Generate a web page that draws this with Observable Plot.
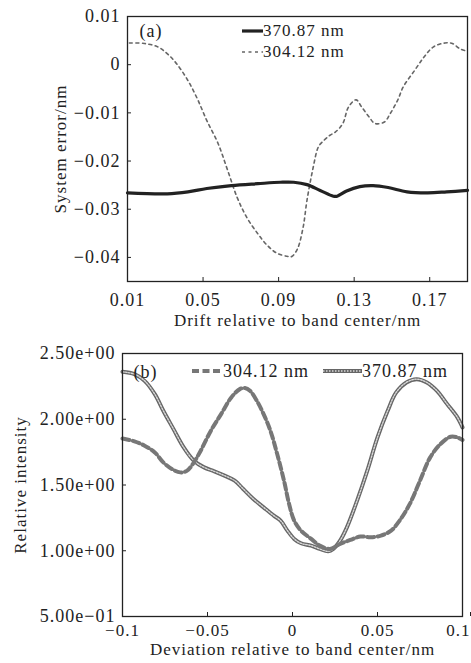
<!DOCTYPE html>
<html><head><meta charset="utf-8">
<script src="https://cdn.jsdelivr.net/npm/d3@7"></script>
<script src="https://cdn.jsdelivr.net/npm/@observablehq/plot@0.6"></script>
<style>
body{margin:0;background:#fff;}
#wrap{position:relative;width:471px;height:663px;font-family:'Liberation Serif',serif;color:#222;}
#a{position:absolute;left:0;top:0;}
#b{position:absolute;left:0;top:330px;}
.lg{position:absolute;display:flex;align-items:center;white-space:nowrap;letter-spacing:1px;}
.lg svg{display:block;overflow:visible;}
</style></head><body>
<div id="wrap"><div id="a"></div><div id="b"></div>
<div class="lg" id="la1" style="left:242px;top:20px;font-size:17px;"></div>
<div class="lg" id="la2" style="left:242px;top:41px;font-size:17px;"></div>
<div class="lg" id="lb1" style="left:192px;top:360px;font-size:18px;"></div>
<div class="lg" id="lb2" style="left:323px;top:360px;font-size:18px;"></div>
</div>
<script>
// ---- Panel (a) data ----
const seriesNames = ["370.87 nm", "304.12 nm"];
const drift370 = [0.010,0.031,0.042,0.052,0.065,0.079,0.091,0.098,0.105,0.112,0.119,0.121,0.126,0.133,0.140,0.148,0.158,0.169,0.179,0.190];
const err370   = [-0.0266,-0.0268,-0.0264,-0.0257,-0.0251,-0.0247,-0.0244,-0.0244,-0.0249,-0.0261,-0.0273,-0.0273,-0.0262,-0.0253,-0.0251,-0.0255,-0.0264,-0.0266,-0.0264,-0.0261];
const drift304 = [0.011,0.019,0.026,0.031,0.036,0.042,0.047,0.052,0.058,0.063,0.068,0.073,0.079,0.084,0.089,0.095,0.097,0.100,0.103,0.105,0.108,0.111,0.113,0.117,0.120,0.124,0.127,0.131,0.134,0.138,0.141,0.146,0.149,0.153,0.156,0.162,0.167,0.172,0.178,0.182,0.186,0.190];
const err304   = [0.0045,0.0044,0.0037,0.0023,0.0002,-0.0033,-0.0071,-0.0116,-0.0164,-0.0219,-0.0275,-0.0316,-0.0351,-0.0375,-0.0391,-0.0398,-0.0398,-0.0382,-0.0337,-0.0282,-0.0219,-0.0171,-0.0161,-0.0147,-0.0140,-0.0122,-0.0088,-0.0073,-0.0088,-0.0109,-0.0122,-0.0119,-0.0102,-0.0074,-0.0046,-0.0012,0.0016,0.0037,0.0045,0.0044,0.0033,0.0028];
const xTicksA = [0.01,0.05,0.09,0.13,0.17];
const xTickLabelsA = ["0.01","0.05","0.09","0.13","0.17"];
const yTicksA = [0.01,0,-0.01,-0.02,-0.03,-0.04];
const yTickLabelsA = ["0.01","0","\u22120.01","\u22120.02","\u22120.03","\u22120.04"];

// ---- Panel (b) data ----
const dev370 = [-0.100,-0.093,-0.087,-0.081,-0.076,-0.070,-0.064,-0.058,-0.052,-0.046,-0.040,-0.034,-0.029,-0.023,-0.017,-0.011,-0.007,-0.003,0.001,0.005,0.011,0.016,0.021,0.024,0.028,0.032,0.038,0.044,0.050,0.056,0.061,0.067,0.073,0.079,0.085,0.091,0.097,0.100];
const int370 = [2.361,2.343,2.292,2.191,2.065,1.925,1.786,1.685,1.634,1.604,1.571,1.533,1.470,1.394,1.330,1.267,1.229,1.153,1.090,1.057,1.039,1.014,0.996,1.014,1.077,1.178,1.381,1.609,1.862,2.065,2.204,2.280,2.305,2.280,2.216,2.115,2.014,1.938];
const dev304 = [-0.100,-0.093,-0.087,-0.081,-0.076,-0.071,-0.066,-0.062,-0.058,-0.054,-0.048,-0.042,-0.036,-0.031,-0.028,-0.025,-0.021,-0.017,-0.013,-0.009,-0.005,-0.002,0.001,0.005,0.011,0.016,0.022,0.028,0.034,0.040,0.046,0.052,0.058,0.063,0.069,0.075,0.081,0.087,0.093,0.097,0.100];
const int304 = [1.854,1.832,1.799,1.748,1.672,1.622,1.596,1.609,1.672,1.761,1.913,2.039,2.166,2.229,2.237,2.216,2.141,2.039,1.913,1.735,1.533,1.356,1.229,1.153,1.090,1.039,1.014,1.052,1.082,1.108,1.103,1.115,1.153,1.229,1.356,1.533,1.710,1.811,1.867,1.862,1.842];
const xTicksB = [-0.1,-0.05,0,0.05,0.1];
const xTickLabelsB = ["\u22120.1","\u22120.05","0","0.05","0.1"];
const yTicksB = [0.5,1,1.5,2,2.5];
const yTickLabelsB = ["5.00e\u221201","1.00e+00","1.50e+00","2.00e+00","2.50e+00"];

const zip = (xs, ys) => xs.map((x, i) => ({x, y: ys[i]}));
const fmt = (ticks, labels) => d => labels[ticks.findIndex(t => Math.abs(t - d) < 1e-9)];
const baseStyle = {fontFamily:"'Liberation Serif', serif", fontSize:"18px", color:"#222", background:"#fff", overflow:"visible", letterSpacing:"1px"};

const style = {
  a370: {stroke:"#222", strokeWidth:3.2},
  a304: {stroke:"#666", strokeWidth:1.6, strokeDasharray:"3,3.5"},
  b304: {stroke:"#777", strokeWidth:4, strokeDasharray:"7,3.5"},
  b370o: {stroke:"#666", strokeWidth:4},
  b370i: {stroke:"#d8d8d8", strokeWidth:1.4, strokeDasharray:"1.5,1.5"}
};

const plotA = Plot.plot({
  width:471, height:330,
  marginTop:16, marginBottom:49, marginLeft:127, marginRight:4,
  style: baseStyle,
  x:{domain:[0.01,0.19]},
  y:{domain:[-0.045,0.01]},
  marks:[
    Plot.axisX(xTicksA, {tickSize:-4, tickPadding:16, tickFormat: fmt(xTicksA, xTickLabelsA), fontSize:18, label:null}),
    Plot.axisY(yTicksA, {tickSize:-4, tickPadding:11, tickFormat: fmt(yTicksA, yTickLabelsA), fontSize:18, label:null}),
    Plot.line(zip(drift304, err304), {x:"x", y:"y", curve:"catmull-rom", ...style.a304}),
    Plot.line(zip(drift370, err370), {x:"x", y:"y", curve:"catmull-rom", ...style.a370}),
    Plot.text(["(a)"], {frameAnchor:"top-left", dx:12, dy:15, textAnchor:"start", lineAnchor:"middle", fontSize:18}),
    Plot.text(["System error/nm"], {frameAnchor:"left", dx:-67, rotate:-90, fontSize:17, textAnchor:"middle", lineAnchor:"middle"}),
    Plot.text(["Drift relative to band center/nm"], {frameAnchor:"bottom", dy:39, fontSize:17, textAnchor:"middle", lineAnchor:"middle"}),
    Plot.frame({stroke:"#222", strokeWidth:1.3})
  ]
});
document.getElementById("a").append(plotA);

const lastB = xTicksB.length - 1;
const plotB = Plot.plot({
  width:471, height:333,
  marginTop:23, marginBottom:47, marginLeft:122, marginRight:9,
  style: baseStyle,
  x:{domain:[-0.1,0.1]},
  y:{domain:[0.5,2.5]},
  marks:[
    Plot.axisX(xTicksB.slice(0, lastB), {tickSize:-4, tickPadding:11, tickFormat: fmt(xTicksB, xTickLabelsB), fontSize:17, label:null}),
    Plot.axisX(xTicksB.slice(lastB), {tickSize:-4, tickPadding:11, tickFormat: fmt(xTicksB, xTickLabelsB), fontSize:17, label:null, textAnchor:"end", dx:8}),
    Plot.axisY(yTicksB, {tickSize:-4, tickPadding:11, tickFormat: fmt(yTicksB, yTickLabelsB), fontSize:18, label:null}),
    Plot.line(zip(dev370, int370), {x:"x", y:"y", curve:"catmull-rom", ...style.b370o}),
    Plot.line(zip(dev370, int370), {x:"x", y:"y", curve:"catmull-rom", ...style.b370i}),
    Plot.line(zip(dev304, int304), {x:"x", y:"y", curve:"catmull-rom", ...style.b304}),
    Plot.text(["(b)"], {frameAnchor:"top-left", dx:11, dy:19, textAnchor:"start", lineAnchor:"middle", fontSize:18}),
    Plot.text(["Relative intensity"], {frameAnchor:"left", dx:-102, rotate:-90, fontSize:17, textAnchor:"middle", lineAnchor:"middle"}),
    Plot.text(["Deviation relative to band center/nm"], {frameAnchor:"bottom", dy:33, fontSize:17, textAnchor:"middle", lineAnchor:"middle"}),
    Plot.frame({stroke:"#222", strokeWidth:1.3})
  ]
});
document.getElementById("b").append(plotB);

// ---- legends ----
function legend(id, name, w, layers) {
  const el = document.getElementById(id);
  const svg = d3.create("svg").attr("width", w).attr("height", 22);
  layers.forEach(s => svg.append("line").attr("x1",0).attr("x2",w).attr("y1",11).attr("y2",11)
    .attr("stroke", s.stroke).attr("stroke-width", s.strokeWidth).attr("stroke-dasharray", s.strokeDasharray || null));
  el.append(svg.node());
  const span = document.createElement("span");
  span.textContent = name;
  el.append(span);
}
legend("la1", seriesNames[0], 21, [style.a370]);
legend("la2", seriesNames[1], 21, [style.a304]);
legend("lb1", seriesNames[1], 31, [style.b304]);
legend("lb2", seriesNames[0], 39, [style.b370o, style.b370i]);
</script>
</body></html>
